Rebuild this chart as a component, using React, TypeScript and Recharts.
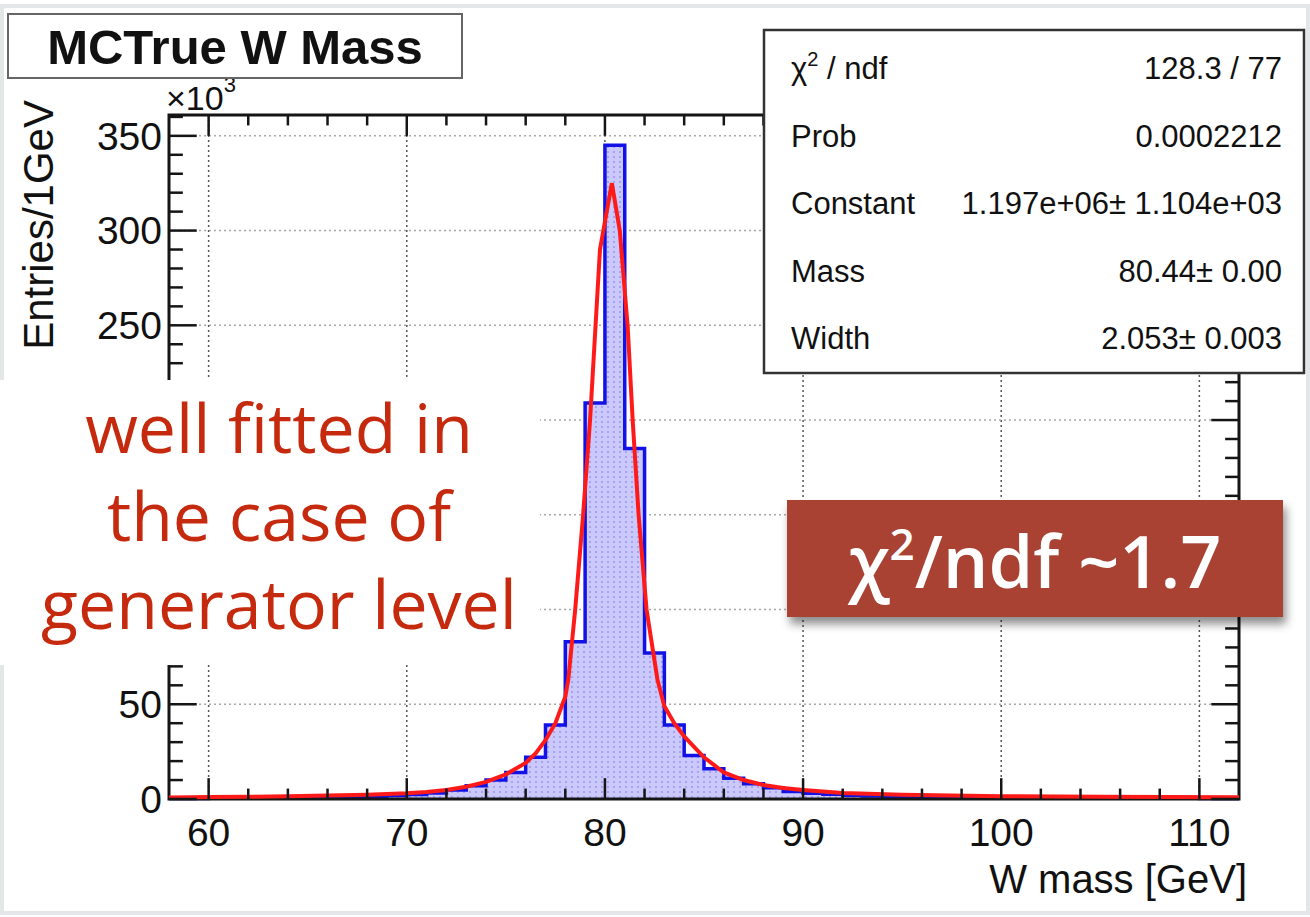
import React from 'react';
import {
  ComposedChart,
  Area,
  Line,
  XAxis,
  YAxis,
  CartesianGrid,
  ReferenceLine,
  ReferenceArea,
} from 'recharts';

// histogram: 1 GeV bins, entries in units of 10^3
const BIN_EDGES = [
  58, 59, 60, 61, 62, 63, 64, 65, 66, 67, 68, 69, 70, 71, 72, 73, 74, 75, 76, 77, 78, 79, 80, 81, 82, 83, 84, 85,
  86, 87, 88, 89, 90, 91, 92, 93, 94, 95, 96, 97, 98, 99, 100, 101, 102, 103, 104, 105, 106, 107, 108, 109, 110,
  111, 112,
];
const BIN_COUNTS = [
  0.3, 0.3, 0.4, 0.4, 0.5, 0.6, 0.7, 0.8, 1.0, 1.2, 1.5, 1.9, 2.4, 3.2, 4.8, 7.0, 10, 14, 22, 39, 83, 209, 345,
  185, 77, 39, 23, 16, 11, 8, 6, 4, 3, 2.5, 2, 1.6, 1.3, 1.1, 1.0, 0.9, 0.8, 0.7, 0.7, 0.6, 0.6, 0.5, 0.5, 0.5,
  0.4, 0.4, 0.4, 0.4, 0.3, 0.3,
];

const FIT_X = [
  58, 60, 62, 64, 66, 68, 70, 71, 72, 73, 74, 75, 76, 76.5, 77, 77.5, 78, 78.15, 78.5, 78.9, 79.25, 79.75, 80.35,
  80.75, 81.15, 81.4, 81.7, 82.1, 82.65, 83, 83.5, 84, 85, 86, 87, 88, 89, 90, 92, 95, 100, 105, 112,
];
const FIT_Y = [
  0.8, 1.0, 1.2, 1.4, 1.8, 2.3, 3.0, 3.7, 4.8, 6.5, 9, 13, 19, 24, 31, 40, 54, 63, 100, 150, 200, 290, 325, 300,
  249, 200, 150, 100, 63, 49, 40, 33, 22, 14, 10, 7.4, 5.8, 4.8, 3.2, 2.2, 1.5, 1.2, 0.9,
];

const X_MAJOR = [60, 70, 80, 90, 100, 110];
const X_MINOR = [62, 64, 66, 68, 72, 74, 76, 78, 82, 84, 86, 88, 92, 94, 96, 98, 102, 104, 106, 108];
const Y_MAJOR = [0, 50, 100, 150, 200, 250, 300, 350];
// labels 100-200 sit under the slide's text box in the original
const Y_LABELED = [0, 50, 250, 300, 350];
const Y_MINOR = [
  10, 20, 30, 40, 60, 70, 80, 90, 110, 120, 130, 140, 160, 170, 180, 190, 210, 220, 230, 240, 260, 270, 280, 290,
  310, 320, 330, 340, 360,
];

const X_DOMAIN = [58, 112];
const Y_DOMAIN = [0, 361];

const STATS = [
  ['chi', '128.3 / 77'],
  ['Prob', '0.0002212'],
  ['Constant', '1.197e+06\u00b1 1.104e+03'],
  ['Mass', '80.44\u00b1 0.00'],
  ['Width', '2.053\u00b1 0.003'],
];

const HIST = BIN_EDGES.map((x, i) => ({ x, count: BIN_COUNTS[Math.min(i, BIN_COUNTS.length - 1)] }));
const FIT = FIT_X.map((x, i) => ({ x, fit: FIT_Y[i] }));

const ROOT_FONT = '"Liberation Sans", Arial, sans-serif';
const SLIDE_FONT = '"Open Sans", "Noto Sans", sans-serif';
const TICK = '#151515';

// tick lengths in data units
const XT_MAJ = 11;
const XT_MIN = 5.5;
const YT_MAJ = 1.4;
const YT_MIN = 0.7;

function tickSeg(key: string, a: { x: number; y: number }, b: { x: number; y: number }) {
  return (
    <ReferenceLine key={key} segment={[a, b]} stroke={TICK} strokeWidth={2.5} ifOverflow="visible" />
  );
}

export default function App() {
  return (
    <div style={{ position: 'absolute', left: 0, top: 0, width: 1310, height: 917, background: '#fff', overflow: 'hidden' }}>
      <ComposedChart
        width={1310}
        height={917}
        data={HIST}
        margin={{ top: 115, right: 71, bottom: 0, left: 0 }}
      >
        <defs>
          <pattern id="hatch" width="6" height="5" patternUnits="userSpaceOnUse">
            <rect width="6" height="5" fill="#cbc9fb" />
            <rect x="1" y="1" width="2" height="2" fill="#a6a2f1" />
          </pattern>
        </defs>
        <CartesianGrid horizontal={false} stroke="#555" strokeDasharray="2 3" strokeWidth={1.5} />
        <CartesianGrid vertical={false} stroke="#a8a8a8" strokeDasharray="2 3" strokeWidth={1.5} />
        <XAxis
          dataKey="x"
          type="number"
          domain={X_DOMAIN}
          ticks={X_MAJOR}
          height={118}
          tickSize={0}
          tickMargin={19}
          tickLine={false}
          axisLine={false}
          tick={{ fontSize: 39, fill: '#111', fontFamily: ROOT_FONT }}
        />
        <YAxis
          type="number"
          domain={Y_DOMAIN}
          ticks={Y_MAJOR}
          width={169}
          tickSize={0}
          tickMargin={7}
          tickLine={false}
          axisLine={false}
          tickFormatter={(v: number) => (Y_LABELED.includes(v) ? String(v) : '')}
          tick={{ fontSize: 39, fill: '#111', fontFamily: ROOT_FONT }}
        />
        <Area
          dataKey="count"
          type="stepAfter"
          stroke="#1212e6"
          strokeWidth={3.5}
          fill="url(#hatch)"
          fillOpacity={1}
          dot={false}
          activeDot={false}
          isAnimationActive={false}
        />
        <Line
          data={FIT}
          dataKey="fit"
          type="linear"
          stroke="#ff1a1a"
          strokeWidth={4}
          dot={false}
          activeDot={false}
          isAnimationActive={false}
        />
        <ReferenceArea
          x1={X_DOMAIN[0]}
          x2={X_DOMAIN[1]}
          y1={Y_DOMAIN[0]}
          y2={Y_DOMAIN[1]}
          fill="none"
          stroke={TICK}
          strokeWidth={3}
          ifOverflow="visible"
        />
        {X_MAJOR.map((v) => tickSeg('xb' + v, { x: v, y: 0 }, { x: v, y: XT_MAJ }))}
        {X_MAJOR.map((v) => tickSeg('xt' + v, { x: v, y: Y_DOMAIN[1] }, { x: v, y: Y_DOMAIN[1] - XT_MAJ }))}
        {X_MINOR.map((v) => tickSeg('xbm' + v, { x: v, y: 0 }, { x: v, y: XT_MIN }))}
        {X_MINOR.map((v) => tickSeg('xtm' + v, { x: v, y: Y_DOMAIN[1] }, { x: v, y: Y_DOMAIN[1] - XT_MIN }))}
        {Y_MAJOR.map((v) => tickSeg('yl' + v, { x: X_DOMAIN[0], y: v }, { x: X_DOMAIN[0] + YT_MAJ, y: v }))}
        {Y_MAJOR.map((v) => tickSeg('yr' + v, { x: X_DOMAIN[1], y: v }, { x: X_DOMAIN[1] - YT_MAJ, y: v }))}
        {Y_MINOR.map((v) => tickSeg('ylm' + v, { x: X_DOMAIN[0], y: v }, { x: X_DOMAIN[0] + YT_MIN, y: v }))}
        {Y_MINOR.map((v) => tickSeg('yrm' + v, { x: X_DOMAIN[1], y: v }, { x: X_DOMAIN[1] - YT_MIN, y: v }))}
      </ComposedChart>

      {/* slide overlays: titles, stat box, annotations */}
      <svg
        width={1310}
        height={917}
        style={{ position: 'absolute', left: 0, top: 0, pointerEvents: 'none' }}
      >
        <defs>
          <filter id="shadow" x="-10%" y="-20%" width="130%" height="160%">
            <feDropShadow dx="3" dy="7" stdDeviation="5" floodColor="#000" floodOpacity="0.45" />
          </filter>
        </defs>
        <rect x={2} y={6} width={1306} height={907} fill="none" stroke="#e3e7e7" strokeWidth={4} />

        <text x={166} y={110} fontSize={34} fontFamily={ROOT_FONT} fill="#111">
          {'\u00d710'}
          <tspan fontSize={22} dy={-18}>3</tspan>
        </text>

        <rect x={8} y={14} width={454} height={64} fill="#fff" stroke="#666" strokeWidth={2} />
        <text x={235} y={64} textAnchor="middle" fontSize={49} fontWeight={700} fontFamily={ROOT_FONT} fill="#111">
          MCTrue W Mass
        </text>

        <text
          transform="translate(53,100) rotate(-90)"
          textAnchor="end"
          fontSize={42}
          fontFamily={ROOT_FONT}
          fill="#111"
        >
          Entries/1GeV
        </text>
        <text x={1247} y={893} textAnchor="end" fontSize={40} fontFamily={ROOT_FONT} fill="#111">
          W mass [GeV]
        </text>

        <rect x={764} y={30} width={540} height={343} fill="#fff" stroke="#333" strokeWidth={2.5} />
        {STATS.map(([k, v], i) => (
          <g key={k} fontFamily={ROOT_FONT} fontSize={31} fill="#111">
            <text x={791} y={79 + i * 67.5}>
              {k === 'chi' ? (
                <>
                  {'\u03c7'}
                  <tspan fontSize={20} dy={-13}>2</tspan>
                  <tspan dy={13}>{' / ndf'}</tspan>
                </>
              ) : (
                k
              )}
            </text>
            <text x={1282} y={79 + i * 67.5} textAnchor="end">
              {v}
            </text>
          </g>
        ))}

        <rect x={0} y={380} width={540} height={285} fill="#fff" />
        <g fontFamily={SLIDE_FONT} fontSize={68} fill="#c62a0e" textAnchor="middle">
          <text x={279} y={453}>well fitted in</text>
          <text x={279} y={541}>the case of</text>
          <text x={279} y={629}>generator level</text>
        </g>

        <rect x={787} y={500} width={496} height={117} fill="#a94232" filter="url(#shadow)" />
        <text x={1035} y={588} textAnchor="middle" fontSize={72} fontWeight={600} fontFamily={SLIDE_FONT} fill="#fff">
          {'\u03c7'}
          <tspan fontSize={44} dy={-28}>2</tspan>
          <tspan dy={28}>/ndf ~1.7</tspan>
        </text>
      </svg>
    </div>
  );
}
